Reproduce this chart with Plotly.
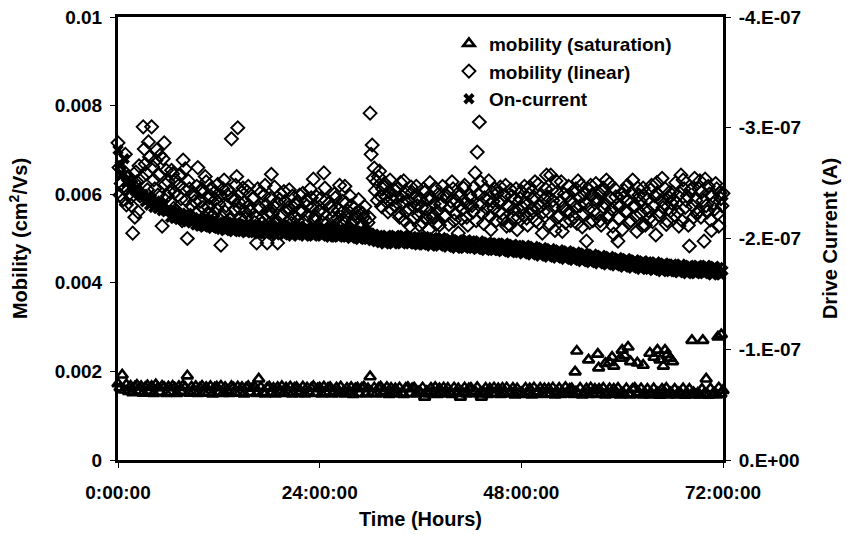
import numpy as np
import plotly.graph_objects as go

# Sampling: readings every 15 minutes over 72 hours (two interleaved sets for mobility)
TIME_H = np.arange(289) * 0.25
TIME_H_B = np.arange(288) * 0.25 + 0.125

# Linear-region mobility, in units of 1e-5 cm^2/Vs (on the quarter hour)
MOB_LIN_E5 = [
    716, 598, 655, 612, 576, 640, 592, 512, 548, 628, 664, 602,
    752, 668, 610, 684, 752, 632, 676, 598, 688, 528, 716, 654,
    628, 582, 646, 604, 562, 620, 590, 677, 657, 500, 612, 574,
    598, 556, 660, 584, 612, 542, 628, 570, 596, 552, 604, 566,
    578, 485, 612, 560, 598, 544, 725, 586, 620, 750, 568, 604,
    582, 546, 618, 562, 590, 536, 490, 572, 604, 548, 620, 490,
    560, 645, 574, 532, 490, 588, 552, 606, 526, 570, 544, 596,
    548, 582, 524, 566, 602, 538, 574, 516, 592, 634, 550, 528,
    562, 538, 648, 586, 520, 572, 546, 600, 532, 564, 512, 584,
    618, 548, 526, 574, 540, 556, 512, 562, 530, 548, 520, 536,
    783, 711, 659, 628, 640, 596, 612, 624, 582, 606, 566, 598,
    574, 612, 548, 596, 630, 560, 586, 528, 604, 572, 618, 552,
    588, 536, 604, 566, 520, 592, 548, 614, 562, 530, 580, 596,
    552, 606, 570, 628, 540, 584, 512, 598, 566, 620, 548, 574,
    592, 560, 648, 695, 763, 578, 534, 612, 586, 550, 604, 568,
    540, 582, 616, 556, 598, 528, 572, 610, 546, 588, 520, 564,
    606, 552, 580, 530, 616, 568, 594, 540, 622, 574, 512, 590,
    643, 560, 643, 586, 518, 604, 552, 628, 570, 536, 596, 560,
    584, 548, 612, 630, 574, 526, 600, 494, 566, 620, 540, 588,
    556, 602, 530, 614, 578, 548, 624, 566, 510, 594, 494, 572,
    520, 608, 562, 586, 540, 632, 574, 516, 598, 556, 614, 530,
    588, 546, 620, 572, 508, 600, 560, 636, 578, 532, 594, 562,
    604, 552, 580, 528, 643, 632, 570, 596, 483, 612, 548, 586,
    560, 630, 606, 494, 574, 618, 542, 596, 566, 612, 528, 590,
    602,
]

# Linear-region mobility, in units of 1e-5 cm^2/Vs (between the quarter hours)
MOB_LIN_E5_B = [
    660, 624, 588, 690, 636, 602, 574, 618, 650, 560, 596, 638,
    702, 646, 718, 590, 662, 612, 700, 644, 574, 680, 622, 596,
    606, 654, 568, 632, 598, 644, 540, 612, 586, 630, 552, 600,
    584, 618, 536, 606, 570, 640, 556, 592, 614, 530, 588, 622,
    596, 548, 632, 574, 610, 528, 592, 566, 640, 582, 546, 614,
    560, 606, 574, 526, 592, 550, 612, 568, 534, 598, 576, 552,
    590, 556, 616, 540, 578, 600, 522, 584, 562, 610, 534, 570,
    576, 540, 598, 560, 520, 586, 552, 612, 568, 542, 594, 562,
    590, 556, 614, 534, 580, 508, 562, 592, 546, 620, 558, 536,
    580, 562, 596, 534, 568, 548, 588, 526, 556, 572, 510, 548,
    690, 636, 608, 586, 652, 572, 620, 594, 560, 632, 588, 610,
    592, 556, 626, 580, 540, 604, 568, 616, 546, 590, 574, 530,
    570, 612, 548, 590, 626, 556, 578, 532, 600, 576, 618, 550,
    596, 532, 584, 612, 556, 600, 574, 544, 614, 582, 530, 598,
    574, 616, 540, 600, 628, 556, 592, 568, 630, 520, 584, 612,
    602, 560, 584, 542, 620, 574, 530, 596, 566, 612, 548, 590,
    570, 618, 546, 600, 556, 588, 628, 566, 534, 598, 560, 612,
    594, 532, 610, 572, 630, 548, 584, 516, 600, 562, 618, 540,
    606, 570, 534, 592, 620, 556, 580, 612, 536, 598, 562, 624,
    588, 540, 606, 568, 632, 554, 590, 528, 612, 576, 546, 600,
    592, 560, 620, 536, 604, 574, 550, 614, 584, 528, 596, 566,
    562, 610, 538, 596, 626, 552, 586, 570, 612, 540, 604, 580,
    588, 626, 560, 602, 540, 612, 586, 530, 608, 574, 636, 556,
    612, 548, 586, 634, 560, 600, 518, 580, 624, 556, 602, 574,
]

# Saturation-region mobility, in units of 1e-5 cm^2/Vs
MOB_SAT_E5 = [
    172, 163, 192, 158, 170, 155, 167, 152, 165, 169, 154, 166,
    151, 164, 168, 155, 166, 150, 170, 163, 153, 167, 164, 150,
    165, 152, 167, 163, 150, 166, 155, 168, 164, 190, 151, 165,
    154, 166, 150, 163, 167, 151, 164, 153, 166, 149, 163, 165,
    152, 167, 150, 164, 156, 150, 166, 163, 151, 165, 153, 164,
    149, 163, 166, 152, 162, 165, 150, 183, 164, 152, 149, 163,
    165, 151, 162, 149, 164, 153, 166, 150, 163, 152, 165, 149,
    162, 164, 150, 155, 165, 149, 163, 151, 162, 166, 150, 161,
    163, 149, 165, 152, 162, 164, 149, 155, 163, 150, 165, 152,
    149, 162, 153, 164, 148, 161, 163, 150, 162, 165, 149, 161,
    188, 151, 163, 149, 162, 165, 150, 155, 164, 148, 162, 153,
    161, 149, 163, 151, 148, 162, 164, 150, 161, 163, 149, 154,
    152, 163, 142, 155, 149, 162, 150, 164, 148, 161, 152, 163,
    149, 162, 152, 148, 163, 150, 161, 142, 152, 163, 149, 161,
    162, 150, 155, 164, 149, 142, 152, 162, 148, 161, 150, 163,
    150, 161, 148, 162, 151, 163, 149, 154, 162, 147, 161, 150,
    152, 148, 162, 150, 161, 147, 163, 149, 154, 162, 148, 161,
    149, 161, 150, 163, 147, 154, 162, 148, 151, 164, 149, 160,
    161, 148, 154, 149, 162, 147, 151, 161, 148, 163, 149, 160,
    148, 160, 149, 162, 147, 152, 161, 148, 160, 149, 162, 147,
    151, 148, 161, 149, 147, 160, 162, 148, 152, 161, 147, 150,
    160, 147, 150, 161, 148, 152, 146, 160, 149, 162, 147, 152,
    148, 160, 147, 152, 149, 161, 146, 150, 160, 148, 152, 147,
    151, 147, 160, 149, 183, 146, 161, 148, 151, 147, 163, 149,
    157,
]

# Additional high saturation-mobility readings late in the run
SAT_EXTRA_T = [54.4, 54.6, 56.0, 57.1, 57.2, 58.0, 58.5, 58.8, 59.0, 59.8, 60.0,
               60.3, 60.7, 61.0, 61.8, 62.5, 63.3, 63.8, 64.2, 64.5, 64.9, 65.1,
               65.4, 65.7, 66.0, 68.3, 69.6, 71.4, 71.8]
SAT_EXTRA_E5 = [199, 246, 226, 239, 208, 218, 220, 232, 212, 230, 248,
                236, 255, 222, 219, 214, 241, 232, 248, 226, 212, 248,
                238, 230, 222, 270, 270, 278, 283]

# Drive (on-) current magnitude, in nA
ON_CURRENT_NA = [
    280, 266, 258, 272, 250, 254, 246, 249, 243, 246, 240, 238,
    240, 233, 238, 230, 236, 228, 234, 227, 232, 225, 231, 224,
    226, 219, 225, 218, 224, 217, 223, 216, 222, 215, 221, 214,
    219, 212, 218, 211, 217, 210, 218, 211, 216, 209, 217, 210,
    215, 208, 214, 207, 215, 208, 213, 206, 214, 207, 213, 206,
    213, 205, 212, 206, 213, 205, 211, 204, 212, 205, 211, 204,
    211, 204, 210, 203, 212, 205, 210, 203, 211, 204, 209, 202,
    210, 203, 211, 204, 209, 202, 210, 203, 209, 202, 210, 203,
    209, 202, 210, 203, 208, 201, 209, 202, 208, 201, 209, 202,
    208, 201, 207, 200, 208, 201, 206, 199, 207, 200, 206, 199,
    205, 198, 204, 197, 203, 196, 202, 195, 203, 196, 202, 195,
    203, 196, 202, 195, 203, 196, 202, 195, 202, 195, 201, 194,
    201, 194, 202, 195, 200, 193, 201, 194, 200, 193, 201, 194,
    199, 192, 200, 193, 198, 191, 199, 192, 198, 191, 199, 192,
    198, 191, 197, 190, 198, 191, 196, 189, 197, 190, 196, 189,
    196, 189, 195, 188, 196, 189, 194, 187, 195, 188, 194, 187,
    193, 186, 194, 187, 192, 185, 193, 186, 191, 184, 192, 185,
    190, 183, 191, 184, 189, 182, 190, 183, 188, 181, 189, 182,
    187, 180, 188, 181, 186, 179, 187, 180, 185, 178, 186, 179,
    184, 177, 185, 178, 183, 176, 184, 177, 182, 175, 183, 176,
    181, 174, 182, 175, 180, 173, 181, 174, 179, 172, 180, 173,
    179, 172, 178, 171, 179, 172, 177, 170, 178, 171, 177, 170,
    177, 170, 176, 169, 177, 170, 175, 168, 176, 169, 175, 168,
    176, 169, 175, 168, 176, 169, 174, 167, 175, 168, 174, 167,
    171,
]

X_TICKS = [0, 24, 48, 72]
X_TICK_LABELS = ["0:00:00", "24:00:00", "48:00:00", "72:00:00"]
Y_TICKS = [0, 0.002, 0.004, 0.006, 0.008, 0.01]
Y_TICK_LABELS = ["0", "0.002", "0.004", "0.006", "0.008", "0.01"]
Y2_TICKS = [0, -1e-7, -2e-7, -3e-7, -4e-7]
Y2_TICK_LABELS = ["0.E+00", "-1.E-07", "-2.E-07", "-3.E-07", "-4.E-07"]


def bold(labels):
    return ["<b>%s</b>" % s for s in labels]


lin_t = np.concatenate([TIME_H, TIME_H_B])
lin_v = np.concatenate([MOB_LIN_E5, MOB_LIN_E5_B]) * 1e-5
sat_t = np.concatenate([TIME_H, SAT_EXTRA_T])
sat_v = np.concatenate([MOB_SAT_E5, SAT_EXTRA_E5]) * 1e-5
on_current = -np.array(ON_CURRENT_NA) * 1e-9

FONT = "Liberation Sans, Arial, sans-serif"
BLACK = "#000000"
FSIZE = 19
TITLE_FONT = dict(family=FONT, size=20, color=BLACK)

fig = go.Figure()
fig.add_trace(go.Scatter(
    x=sat_t, y=sat_v, mode="markers", name="<b>mobility (saturation)</b>",
    legendgroup="a", cliponaxis=False,
    marker=dict(symbol="triangle-up-open", size=10, color=BLACK,
                line=dict(width=2.6, color=BLACK)),
))
fig.add_trace(go.Scatter(
    x=lin_t, y=lin_v, mode="markers", name="<b>mobility (linear)</b>",
    legendgroup="b", cliponaxis=False,
    marker=dict(symbol="diamond-open", size=10, color=BLACK,
                line=dict(width=1.9, color=BLACK)),
))
fig.add_trace(go.Scatter(
    x=TIME_H, y=on_current, mode="markers", name="<b>On-current</b>",
    legendgroup="c", cliponaxis=False, yaxis="y2",
    marker=dict(symbol="x", size=10, color=BLACK, line=dict(width=0)),
))

TICK_FONT = dict(family=FONT, size=FSIZE, color=BLACK)
axis_common = dict(
    showgrid=False, zeroline=False, showline=True, linecolor=BLACK,
    linewidth=3, ticks="outside", ticklen=5, tickwidth=1, tickcolor=BLACK,
    tickfont=TICK_FONT, automargin=False,
)

fig.update_layout(
    width=847, height=535,
    margin=dict(l=118, r=124, t=17, b=75),
    paper_bgcolor="white", plot_bgcolor="white",
    font=dict(family=FONT, size=FSIZE, color=BLACK),
    xaxis=dict(
        **axis_common, range=[0, 72], mirror=True, ticklabelstandoff=8,
        tickvals=X_TICKS, ticktext=bold(X_TICK_LABELS),
        title=dict(text="<b>Time (Hours)</b>", standoff=11, font=TITLE_FONT),
    ),
    yaxis=dict(
        **axis_common, range=[0, 0.01], ticklabelstandoff=4,
        tickvals=Y_TICKS, ticktext=bold(Y_TICK_LABELS),
        title=dict(text="<b>Mobility (cm<sup>2</sup>/Vs)</b>", standoff=22,
                   font=TITLE_FONT),
    ),
    yaxis2=dict(
        **axis_common, range=[0, -4e-7], overlaying="y", side="right",
        ticklabelstandoff=4,
        tickvals=Y2_TICKS, ticktext=bold(Y2_TICK_LABELS),
        title=dict(text="<b>Drive Current (A)</b>", standoff=23, font=TITLE_FONT),
    ),
    legend=dict(
        x=0.547, y=0.983, xanchor="left", yanchor="top",
        bgcolor="rgba(0,0,0,0)", borderwidth=0, tracegroupgap=0,
        font=dict(family=FONT, size=FSIZE, color=BLACK),
        itemsizing="trace",
    ),
    showlegend=True,
)

fig.write_html("out.html")
